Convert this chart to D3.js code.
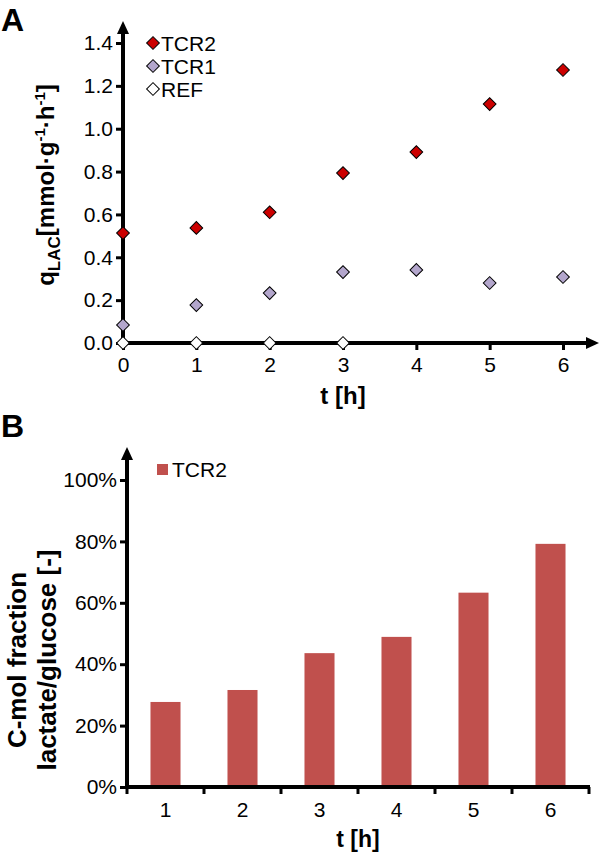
<!DOCTYPE html>
<html><head><meta charset="utf-8">
<script src="https://cdn.jsdelivr.net/npm/d3@7/dist/d3.min.js"></script>
<style>
body{margin:0;background:#fff;}
svg{display:block;font-family:"Liberation Sans",Arial,Helvetica,sans-serif;}
</style></head>
<body>
<svg id="chart" width="600" height="856"></svg>
<script>
// ---- Data ----
const timesA = [0, 1, 2, 3, 4, 5, 6];
const tcr2 = [0.513, 0.537, 0.61, 0.793, 0.891, 1.115, 1.274];
const tcr1 = [0.084, 0.177, 0.233, 0.331, 0.341, 0.28, 0.308];
const refTimes = [0, 1, 2, 3];
const ref = [0, 0, 0, 0];
const yTicksA = [0, 0.2, 0.4, 0.6, 0.8, 1.0, 1.2, 1.4];
const seriesNamesA = ["TCR2", "TCR1", "REF"];
const seriesColorsA = ["#cc0000", "#b3a6cc", "#ffffff"];

const timesB = [1, 2, 3, 4, 5, 6];
const fractionB = [0.277, 0.316, 0.436, 0.489, 0.633, 0.792];
const yTicksB = [0, 0.2, 0.4, 0.6, 0.8, 1.0];
const barColor = "#c0504d";

const svg = d3.select("#chart");
const axisW = 4;
const tickFont = 21;
const FF = "Liberation Sans, Arial, sans-serif";

function diamond(g, cx, cy, fill) {
  g.append("path")
    .attr("d", d3.symbol().type(d3.symbolSquare).size(81)())
    .attr("transform", `translate(${cx},${cy}) rotate(45)`)
    .attr("fill", fill).attr("stroke", "#000").attr("stroke-width", 1);
}

// ---- Panel A ----
const xA = d3.scaleLinear().domain([0, 6]).range([123, 563]);
const yA = d3.scaleLinear().domain([0, 1.4]).range([343, 43]);
const gA = svg.append("g");

// y axis
const yAxA = gA.append("g").attr("transform", `translate(${xA(0)},0)`)
  .call(d3.axisLeft(yA).tickValues(yTicksA).tickFormat(d3.format(".1f")).tickSize(7).tickPadding(3));
yAxA.select(".domain").remove();
yAxA.selectAll(".tick line").attr("stroke-width", 3);
yAxA.selectAll(".tick text").attr("font-size", tickFont).attr("fill", "#000").attr("font-family", FF);
gA.append("line").attr("x1", xA(0)).attr("x2", xA(0)).attr("y1", yA(0) + 2).attr("y2", 32)
  .attr("stroke", "#000").attr("stroke-width", axisW);
gA.append("path").attr("d", `M${xA(0) - 6},${34} L${xA(0)},${21} L${xA(0) + 6},${34} Z`).attr("fill", "#000");

// x axis
const xAxA = gA.append("g").attr("transform", `translate(0,${yA(0)})`)
  .call(d3.axisBottom(xA).tickValues(timesA).tickFormat(d3.format("d")).tickSize(7).tickPadding(7));
xAxA.select(".domain").remove();
xAxA.selectAll(".tick line").attr("stroke-width", 3);
xAxA.selectAll(".tick text").attr("font-size", tickFont).attr("fill", "#000").attr("font-family", FF);
gA.append("line").attr("x1", xA(0) - 2).attr("x2", 588).attr("y1", yA(0)).attr("y2", yA(0))
  .attr("stroke", "#000").attr("stroke-width", axisW);
gA.append("path").attr("d", `M586,${yA(0) - 6} L599,${yA(0)} L586,${yA(0) + 6} Z`).attr("fill", "#000");

// points
const seriesA = [
  {name: seriesNamesA[0], color: seriesColorsA[0], xs: timesA, ys: tcr2},
  {name: seriesNamesA[1], color: seriesColorsA[1], xs: timesA, ys: tcr1},
  {name: seriesNamesA[2], color: seriesColorsA[2], xs: refTimes, ys: ref}
];
seriesA.slice().reverse().forEach(s => {
  s.xs.forEach((t, i) => diamond(gA, xA(t), yA(s.ys[i]), s.color));
});

// legend A
seriesA.forEach((s, i) => {
  const ly = 43 + i * 23;
  diamond(gA, 153, ly, s.color);
  gA.append("text").attr("x", 161).attr("y", ly).attr("dy", "0.36em")
    .attr("font-size", tickFont).text(s.name);
});

// axis titles A
gA.append("text").attr("x", xA(3)).attr("y", 404).attr("text-anchor", "middle")
  .attr("font-size", 24).attr("font-weight", "bold").text("t [h]");
const yt = gA.append("text").attr("transform", "translate(54,185) rotate(-90)")
  .attr("text-anchor", "middle").attr("font-size", 24).attr("font-weight", "bold");
yt.append("tspan").text("q");
yt.append("tspan").attr("font-size", 17).attr("dy", 6).text("LAC");
yt.append("tspan").attr("dy", -6).text("[mmol·g");
yt.append("tspan").attr("font-size", 15).attr("dy", -9).text("-1");
yt.append("tspan").attr("dy", 9).text("·h");
yt.append("tspan").attr("font-size", 15).attr("dy", -9).text("-1");
yt.append("tspan").attr("dy", 9).text("]");

svg.append("text").attr("x", 1).attr("y", 31).attr("font-size", 32).attr("font-weight", "bold").text("A");
svg.append("text").attr("x", 1).attr("y", 437).attr("font-size", 32).attr("font-weight", "bold").text("B");

// ---- Panel B ----
const xB = d3.scaleBand().domain(timesB).range([127, 589]).paddingInner(0.61).paddingOuter(0.305);
const yB = d3.scaleLinear().domain([0, 1]).range([787, 480]);
const gB = svg.append("g");

gB.selectAll("rect").data(timesB).join("rect")
  .attr("x", d => xB(d)).attr("width", xB.bandwidth())
  .attr("y", (d, i) => yB(fractionB[i])).attr("height", (d, i) => yB(0) - yB(fractionB[i]))
  .attr("fill", barColor);

const yAxB = gB.append("g").attr("transform", `translate(127,0)`)
  .call(d3.axisLeft(yB).tickValues(yTicksB).tickFormat(d3.format(".0%")).tickSize(7).tickPadding(3));
yAxB.select(".domain").remove();
yAxB.selectAll(".tick line").attr("stroke-width", 3);
yAxB.selectAll(".tick text").attr("font-size", tickFont).attr("fill", "#000").attr("font-family", FF);
gB.append("line").attr("x1", 127).attr("x2", 127).attr("y1", yB(0) + 2).attr("y2", 458)
  .attr("stroke", "#000").attr("stroke-width", axisW);
gB.append("path").attr("d", `M121,460 L127,447 L133,460 Z`).attr("fill", "#000");

const xAxB = gB.append("g").attr("transform", `translate(0,${yB(0)})`)
  .call(d3.axisBottom(xB).tickSize(0).tickPadding(15));
xAxB.select(".domain").remove();
xAxB.selectAll(".tick text").attr("font-size", tickFont).attr("fill", "#000").attr("font-family", FF);
const boundaries = [timesB[0]].concat(timesB).map((d, i) => i === 0 ? xB(d) - xB.step() * xB.paddingOuter() : xB(d) + xB.bandwidth() + xB.step() * xB.paddingInner() / 2);
gB.selectAll("line.bt").data(boundaries).join("line").attr("class", "bt")
  .attr("x1", d => d).attr("x2", d => d).attr("y1", yB(0)).attr("y2", yB(0) + 7)
  .attr("stroke", "#000").attr("stroke-width", 3);
gB.append("line").attr("x1", 125).attr("x2", 590).attr("y1", yB(0)).attr("y2", yB(0))
  .attr("stroke", "#000").attr("stroke-width", axisW);

// legend B
gB.append("rect").attr("x", 157).attr("y", 464).attr("width", 11).attr("height", 11).attr("fill", barColor);
gB.append("text").attr("x", 172).attr("y", 469.5).attr("dy", "0.36em").attr("font-size", tickFont).text("TCR2");

gB.append("text").attr("x", 358).attr("y", 847).attr("text-anchor", "middle")
  .attr("font-size", 23).attr("font-weight", "bold").text("t [h]");
const ytB = gB.append("text").attr("transform", "translate(0,660) rotate(-90)")
  .attr("text-anchor", "middle").attr("font-size", 26).attr("font-weight", "bold");
ytB.append("tspan").attr("x", 0).attr("y", 26).text("C-mol fraction");
ytB.append("tspan").attr("x", 0).attr("y", 56).text("lactate/glucose [-]");
</script>
</body></html>
